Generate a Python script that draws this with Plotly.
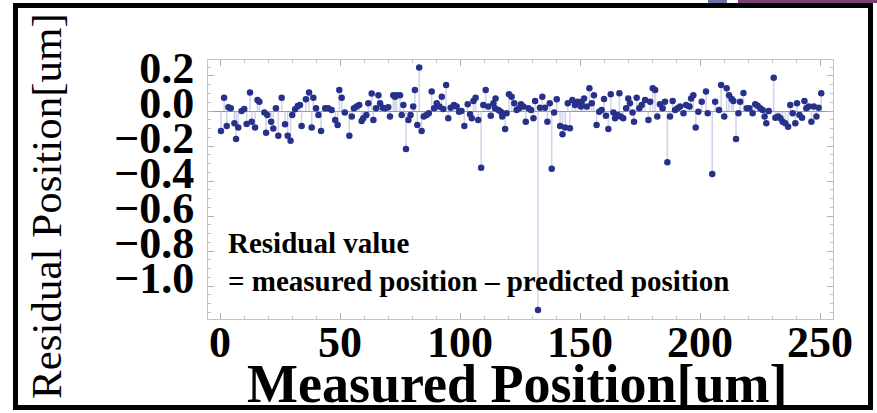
import plotly.graph_objects as go

# ---- data (measured position [um], residual [um]) ----
pos_a = [0.4, 1.7, 2.8, 3.5, 4.5, 6.0, 6.7, 7.6, 9.0, 10.1, 11.1, 12.5, 13.2, 14.6, 15.6, 16.4,
         18.5, 19.2, 19.7, 21.3, 22.2, 23.3, 24.3, 25.7, 27.1, 28.2, 29.4, 30.1, 31.3, 32.4, 33.3,
         34.0, 35.8, 37.1, 38.2, 38.9, 40.0, 41.0, 42.1, 43.8, 45.1]
res_a = [-0.114, 0.076, -0.086, 0.021, 0.015, -0.070, -0.160, -0.095, 0.000, 0.011, -0.074, 0.105,
         -0.061, -0.095, 0.063, 0.053, -0.008, -0.124, -0.023, -0.061, -0.100, 0.015, -0.141, 0.076,
         -0.076, -0.141, -0.170, -0.023, 0.010, 0.029, 0.034, -0.086, 0.067, 0.105, -0.095, 0.076,
         0.015, -0.023, -0.114, 0.015, 0.015]

pos_b = [46.5, 48.0, 49.0, 49.7, 50.7, 52.0, 53.9, 54.9, 55.8, 56.9, 58.0, 59.0, 59.7, 61.0, 61.8,
         63.2, 63.9, 65.0, 66.0, 66.7, 67.8, 68.8, 70.1, 70.8, 72.2, 72.9, 73.6, 75.0, 75.7, 76.4,
         77.5, 78.5, 79.4, 80.5, 81.2, 82.2, 83.0, 84.0, 84.9, 86.1, 87.0, 88.2, 89.2, 90.3, 91.4,
         92.4, 93.0, 94.2, 95.1, 96.1, 97.5, 98.6]
res_b = [0.006, -0.051, -0.080, 0.120, 0.076, -0.008, -0.141, -0.032, 0.015, 0.025, 0.034, -0.057,
         -0.042, -0.023, 0.044, 0.100, -0.051, 0.015, 0.090, 0.044, 0.019, 0.015, 0.021, -0.032,
         0.090, 0.082, 0.090, 0.090, -0.023, 0.034, -0.217, -0.051, -0.023, 0.025, 0.120, -0.080,
         0.248, -0.114, -0.032, -0.023, -0.013, 0.111, 0.015, 0.044, 0.025, 0.082, 0.011, 0.149,
         -0.042, 0.019, 0.034, 0.025]

pos_c = [99.6, 100.6, 101.8, 103.2, 104.2, 104.9, 105.6, 106.5, 107.6, 108.8, 109.7, 110.7, 111.8,
         112.8, 113.9, 114.6, 114.8, 116.0, 117.0, 117.6, 118.8, 119.4, 120.4, 121.5, 122.6, 123.6,
         124.6, 125.4, 126.4, 127.4, 128.5, 129.6, 130.6, 131.3, 132.5, 133.3, 134.3, 135.4, 136.4,
         137.4, 138.2, 139.2, 140.3, 141.7, 142.7, 143.8, 144.9, 145.8, 146.8, 147.9, 149.0, 150.4]
res_c = [-0.004, 0.000, -0.086, 0.038, -0.019, -0.042, 0.057, 0.076, -0.051, -0.324, 0.034, 0.120,
         0.025, -0.027, 0.044, 0.015, 0.072, 0.006, -0.004, -0.032, -0.103, -0.013, 0.095, 0.082,
         0.044, 0.006, 0.015, 0.038, 0.025, -0.061, 0.015, 0.006, -0.042, 0.057, -1.137, 0.019,
         0.082, 0.019, -0.061, 0.044, -0.330, -0.008, 0.067, -0.086, -0.133, -0.095, 0.044, -0.099,
         0.063, 0.034, 0.053, 0.025]

pos_d = [150.7, 151.7, 152.8, 153.9, 154.9, 155.8, 156.9, 158.0, 159.0, 160.0, 160.8, 161.8, 162.8,
         163.9, 164.6, 165.6, 166.4, 166.9, 168.0, 169.2, 170.1, 170.8, 171.9, 172.5, 173.6, 174.7,
         175.7, 177.1, 178.5, 179.2, 180.3, 181.3, 182.2, 183.3, 184.4, 185.4, 186.4, 187.5, 188.6,
         189.6, 190.6, 191.7, 193.1, 194.2, 195.6, 196.3, 197.2, 198.2, 199.3, 200.7]
res_d = [0.053, 0.072, 0.025, 0.130, 0.044, 0.090, -0.080, -0.004, 0.006, 0.069, -0.027, -0.103,
         0.095, -0.008, -0.042, -0.023, 0.101, -0.032, -0.042, 0.015, 0.072, 0.044, -0.008, -0.061,
         0.076, 0.015, 0.034, 0.063, -0.051, 0.053, 0.130, 0.120, -0.032, 0.038, 0.015, 0.053,
         -0.293, -0.032, 0.057, 0.006, 0.015, 0.025, -0.013, 0.034, 0.025, 0.072, 0.090, -0.095,
         -0.004, 0.053]

pos_e = [202.5, 203.2, 205.1, 206.3, 207.9, 208.8, 210.1, 211.1, 212.1, 213.2, 213.9, 215.0, 216.0,
         216.7, 218.1, 219.5, 220.6, 221.9, 223.0, 224.0, 225.1, 226.1, 226.9, 227.6, 228.6, 230.7,
         231.4, 232.5, 233.5, 234.4, 235.5, 236.7, 237.6, 238.6, 239.7, 240.4, 241.4, 242.5, 243.5,
         244.3, 245.3, 246.4, 247.4, 248.5, 249.4, 250.5]
res_e = [0.111, -0.013, -0.360, 0.053, 0.006, 0.149, -0.032, 0.130, 0.090, 0.069, 0.057, -0.160,
         -0.013, 0.053, 0.103, 0.015, 0.015, -0.013, 0.038, 0.030, 0.015, 0.006, -0.032, -0.070,
         0.000, 0.190, -0.038, -0.032, -0.042, -0.061, -0.070, -0.090, 0.034, -0.013, -0.070,
         0.044, -0.023, -0.038, 0.057, 0.015, 0.025, -0.061, 0.025, -0.032, 0.019, 0.101]

x_ticks = [0, 50, 100, 150, 200, 250]
y_ticks = [0.2, 0.0, -0.2, -0.4, -0.6, -0.8, -1.0]

positions = pos_a + pos_b + pos_c + pos_d + pos_e
residuals = res_a + res_b + res_c + res_d + res_e

# ---- geometry helpers (pixel -> paper) ----
L, R, T, B = 208, 833, 60, 319
W, H = R - L, B - T
def px(x):
    return (x - L) / W
def py(y):
    return (B - y) / H

# drop lines (filling to axis)
fx, fy = [], []
for xv, yv in zip(positions, residuals):
    fx += [xv, xv, None]
    fy += [0, yv, None]

fig = go.Figure()
fig.add_trace(go.Scatter(x=fx, y=fy, mode="lines",
                         line=dict(color="rgba(160,160,215,0.45)", width=1.6),
                         hoverinfo="skip"))
fig.add_trace(go.Scatter(x=positions, y=residuals, mode="markers",
                         marker=dict(color="#27318a", size=6.5, line=dict(width=0))))

serif = "Liberation Serif"
fig.update_layout(
    width=877, height=413,
    margin=dict(l=L, r=877 - R, t=T, b=413 - B),
    paper_bgcolor="white", plot_bgcolor="white",
    showlegend=False,
)
fig.update_xaxes(
    range=[-5, 255.4], tickvals=x_ticks, ticktext=[str(v) for v in x_ticks],
    showgrid=False, zeroline=False,
    showline=True, linecolor="#c4c4c4", linewidth=1, mirror="allticks",
    ticks="inside", ticklen=6, tickcolor="#b0b0b0",
    minor=dict(dtick=10, ticks="inside", ticklen=3, tickcolor="#c0c0c0"),
    tickfont=dict(family=serif, size=44, color="black", weight="bold"),
    ticklabelstandoff=-16,
)
fig.update_yaxes(
    range=[-1.1886, 0.2914], tickvals=y_ticks, tickformat=".1f",
    showgrid=False, zeroline=True, zerolinecolor="#9a9a9a", zerolinewidth=1,
    showline=True, linecolor="#c4c4c4", linewidth=1, mirror="allticks",
    ticks="inside", ticklen=6, tickcolor="#b0b0b0",
    minor=dict(dtick=0.05, ticks="inside", ticklen=3, tickcolor="#c0c0c0"),
    tickfont=dict(family=serif, size=44, color="black", weight="bold"),
    ticklabelstandoff=4, ticklabelshift=-8,
)

ann = []
ann.append(dict(text="Residual Position[um]", x=px(46), y=py(206), xref="paper", yref="paper",
                textangle=-90, showarrow=False, xanchor="center", yanchor="middle",
                font=dict(family=serif, size=43, color="black")))
ann.append(dict(text="<b>Measured Position[um]</b>", x=px(517), y=py(384), xref="paper", yref="paper",
                showarrow=False, xanchor="center", yanchor="middle",
                font=dict(family=serif, size=54, color="black")))
ann.append(dict(text="<b>Residual value</b>", x=px(226), y=py(243), xref="paper", yref="paper",
                showarrow=False, xanchor="left", yanchor="middle",
                font=dict(family=serif, size=29, color="black")))
ann.append(dict(text="<b>= measured position – predicted position</b>", x=px(226), y=py(281),
                xref="paper", yref="paper", showarrow=False, xanchor="left", yanchor="middle",
                font=dict(family=serif, size=29, color="black")))
fig.update_layout(annotations=ann)

shapes = [
    dict(type="rect", xref="paper", yref="paper", x0=px(15.5), x1=px(870.5), y0=py(407.5), y1=py(5.5),
         line=dict(color="black", width=5), fillcolor="rgba(0,0,0,0)"),
    dict(type="rect", xref="paper", yref="paper", x0=px(738), x1=px(877), y0=py(3), y1=py(0),
         line=dict(width=0), fillcolor="#7d3f78"),
    dict(type="rect", xref="paper", yref="paper", x0=px(708), x1=px(727), y0=py(3), y1=py(0),
         line=dict(width=0), fillcolor="#6a72a8"),
]
fig.update_layout(shapes=shapes)

fig.write_html("out.html",
               config={"displayModeBar": False},
               post_script="document.body.style.margin='0px';document.body.style.padding='0px';"
                           "document.body.style.overflow='hidden';")
